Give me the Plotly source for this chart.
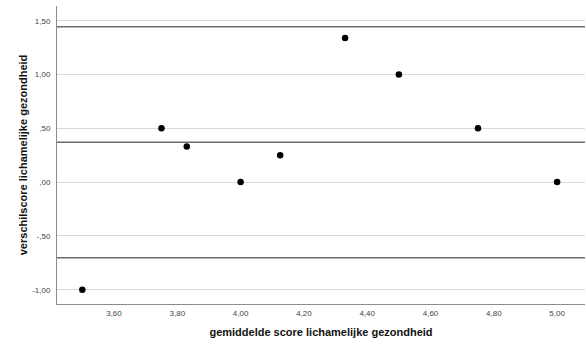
import plotly.graph_objects as go

# data
mean_score = [3.50, 3.75, 3.83, 4.00, 4.125, 4.33, 4.50, 4.75, 5.00]
diff_score = [-1.00, 0.50, 0.33, 0.00, 0.25, 1.34, 1.00, 0.50, 0.00]

# Bland-Altman reference lines (upper limit, mean, lower limit)
ref_lines = [1.444, 0.370, -0.702]

x_tickvals = [3.6, 3.8, 4.0, 4.2, 4.4, 4.6, 4.8, 5.0]
x_ticktext = ["3,60", "3,80", "4,00", "4,20", "4,40", "4,60", "4,80", "5,00"]
y_tickvals = [-1.0, -0.5, 0.0, 0.5, 1.0, 1.5]
y_ticktext = ["-1,00", "-,50", ",00", ",50", "1,00", "1,50"]

x_range = [3.42, 5.088]
y_range = [-1.133, 1.637]

fig = go.Figure()

for v in ref_lines:
    fig.add_shape(type="line", xref="paper", x0=0, x1=1, yref="y", y0=v, y1=v,
                  line=dict(color="#66706e", width=1.5), layer="below")

fig.add_trace(go.Scatter(
    x=mean_score, y=diff_score, mode="markers",
    marker=dict(color="black", size=6.5),
    showlegend=False, hoverinfo="skip"))

fig.update_layout(
    width=586, height=345,
    margin=dict(l=57, r=1, t=6, b=41),
    paper_bgcolor="white", plot_bgcolor="white",
    font=dict(family="Liberation Sans, Arial, sans-serif", color="#333333"),
    xaxis=dict(
        range=x_range, tickvals=x_tickvals, ticktext=x_ticktext,
        showgrid=False, zeroline=False, showline=True, linecolor="#8c8c8c",
        linewidth=1, ticks="", tickfont=dict(size=8, color="#444444"),
        ticklabelstandoff=1,
        title=dict(text="<b>gemiddelde score lichamelijke gezondheid</b>",
                   font=dict(size=11, color="#111111"), standoff=11),
    ),
    yaxis=dict(
        range=y_range, tickvals=y_tickvals, ticktext=y_ticktext,
        showgrid=True, gridcolor="#d9d9d9", gridwidth=1,
        zeroline=False, showline=True, linecolor="#8c8c8c", linewidth=1,
        ticks="", tickfont=dict(size=8, color="#444444"),
        ticklabelstandoff=4,
        title=dict(text="<b>verschilscore lichamelijke gezondheid</b>",
                   font=dict(size=11, color="#111111"), standoff=2),
    ),
)

fig.write_html("out.html")
